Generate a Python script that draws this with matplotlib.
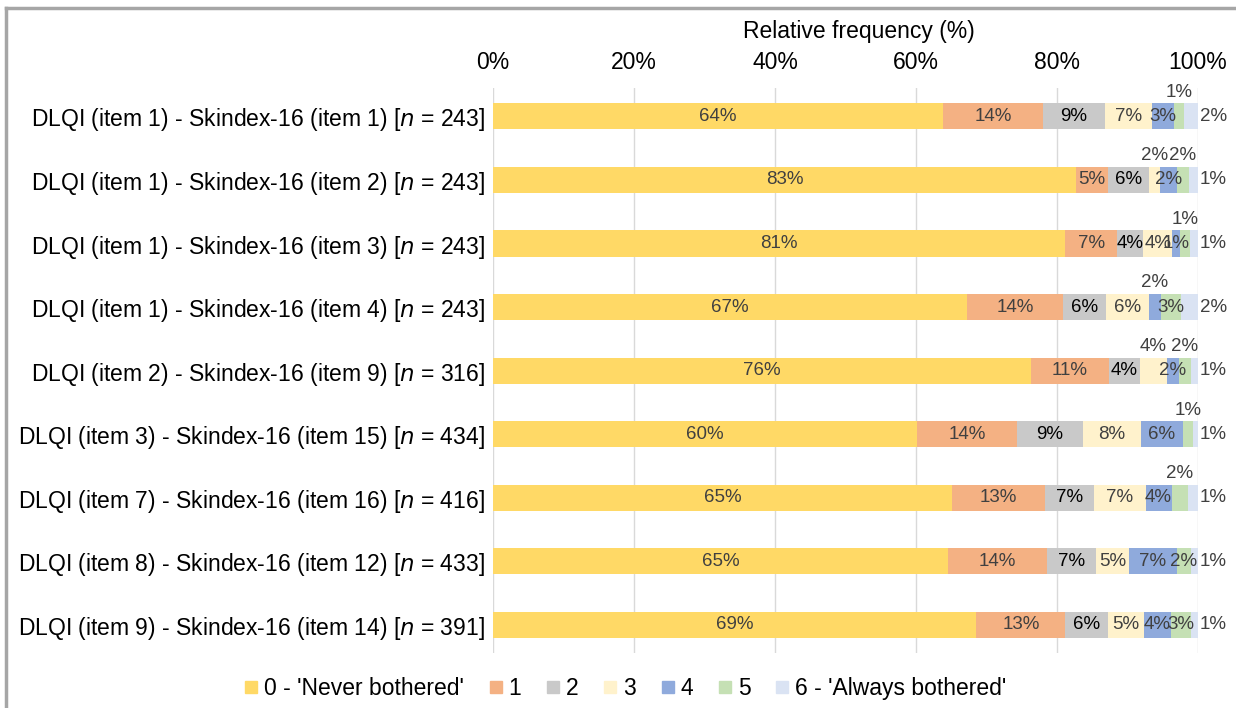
import numpy as np
import matplotlib.pyplot as plt
from matplotlib.lines import Line2D

plt.rcParams['font.family'] = ['Liberation Sans', 'DejaVu Sans']

labels = [
    "DLQI (item 1) - Skindex-16 (item 1) [$n$ = 243]",
    "DLQI (item 1) - Skindex-16 (item 2) [$n$ = 243]",
    "DLQI (item 1) - Skindex-16 (item 3) [$n$ = 243]",
    "DLQI (item 1) - Skindex-16 (item 4) [$n$ = 243]",
    "DLQI (item 2) - Skindex-16 (item 9) [$n$ = 316]",
    "DLQI (item 3) - Skindex-16 (item 15) [$n$ = 434]",
    "DLQI (item 7) - Skindex-16 (item 16) [$n$ = 416]",
    "DLQI (item 8) - Skindex-16 (item 12) [$n$ = 433]",
    "DLQI (item 9) - Skindex-16 (item 14) [$n$ = 391]",
]
series_names = ["0 - 'Never bothered'", "1", "2", "3", "4", "5", "6 - 'Always bothered'"]

s0 = [63.8, 82.7, 81.2, 67.3, 76.3, 60.2, 65.1, 64.6, 68.6]
s1 = [14.3, 4.6, 7.4, 13.6, 11.1, 14.2, 13.2, 14.0, 12.6]
s2 = [8.7, 5.8, 3.7, 6.1, 4.4, 9.3, 7.0, 7.0, 6.1]
s3 = [6.7, 1.6, 4.1, 6.1, 3.8, 8.2, 7.3, 4.6, 5.1]
s4 = [3.1, 2.4, 1.1, 1.7, 1.8, 6.0, 3.7, 6.8, 3.8]
s5 = [1.4, 1.6, 1.4, 2.8, 1.6, 1.4, 2.3, 2.1, 2.8]
s6 = [2.0, 1.3, 1.1, 2.4, 1.0, 0.7, 1.4, 0.9, 1.0]
series = [s0, s1, s2, s3, s4, s5, s6]

# labels drawn above the bar instead of inside: (row, series)
above = {(0, 5), (1, 3), (1, 5), (2, 5), (3, 4), (4, 3), (4, 5), (5, 5), (6, 5)}

colors = ['#FFD966', '#F4B183', '#C9C9C9', '#FFF2CC', '#8FAADC', '#C5E0B4', '#DAE3F3']
txt_colors = ['#404040', '#404040', '#000000', '#404040', '#404040', '#404040', '#404040']

fig = plt.figure(figsize=(12.36, 7.08), dpi=100)
ax = fig.add_axes([0.399, 0.077, 0.570, 0.799])

y = np.arange(len(labels))
left = np.zeros(len(labels))
for j, vals in enumerate(series):
    vals = np.array(vals)
    ax.barh(y, vals, left=left, height=0.41, color=colors[j], label=series_names[j], zorder=2)
    for i, v in enumerate(vals):
        t = f"{v:.0f}%"
        if j == 6:
            ax.text(100.3, y[i], t, ha='left', va='center', fontsize=13.5, color='#404040')
        elif (i, j) in above:
            ax.text(left[i] + v / 2, y[i] - 0.38, t, ha='center', va='center', fontsize=13.5, color='#404040')
        else:
            ax.text(left[i] + v / 2, y[i], t, ha='center', va='center', fontsize=13.5, color=txt_colors[j])
    left += vals

ax.set_xlim(0, 100)
ax.set_ylim(len(labels) - 0.55, -0.45)
ax.set_xticks(np.arange(0, 101, 20))
ax.set_xticklabels([f"{t}%" for t in range(0, 101, 20)])
ax.xaxis.tick_top()
ax.tick_params(axis='x', length=0, labelsize=16.5, pad=10)
ax.set_yticks(y)
ax.set_yticklabels(labels)
ax.tick_params(axis='y', length=0, labelsize=16.5, pad=6)
ax.grid(axis='x', color='#D9D9D9', linewidth=1, zorder=0)
for s in ax.spines.values():
    s.set_visible(False)

fig.text(0.695, 0.955, "Relative frequency (%)", ha='center', va='center', fontsize=16.5)

handles = [Line2D([], [], marker='s', linestyle='none', markersize=9, color=c) for c in colors]
fig.legend(handles, series_names, loc='center', bbox_to_anchor=(0.504, 0.027), ncol=7,
           frameon=False, fontsize=16.5, handletextpad=0.05, columnspacing=0.9, handlelength=1.0)

# partial frame around figure
fig.add_artist(Line2D([0.005, 1.0], [0.988, 0.988], color='#A6A6A6', linewidth=2.5))
fig.add_artist(Line2D([0.005, 0.005], [0.0, 0.988], color='#A6A6A6', linewidth=2.5))

fig.savefig('out.png', dpi=100)
